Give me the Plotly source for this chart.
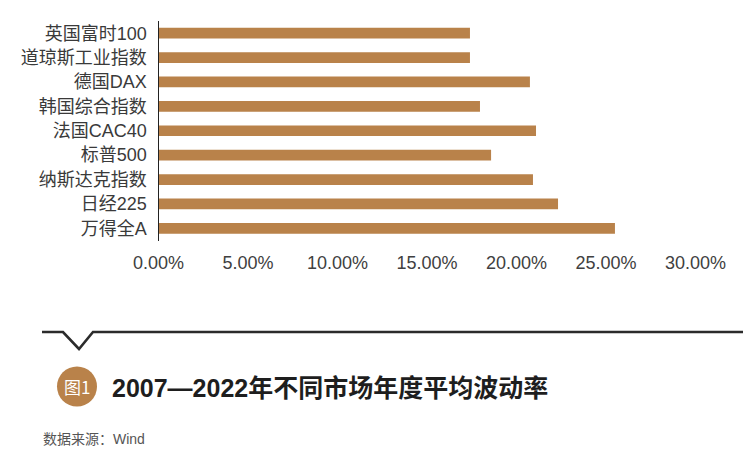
import plotly.graph_objects as go

categories = ["英国富时100", "道琼斯工业指数", "德国DAX", "韩国综合指数", "法国CAC40",
              "标普500", "纳斯达克指数", "日经225", "万得全A"]
volatility_pct = [17.40, 17.40, 20.75, 17.96, 21.09, 18.58, 20.92, 22.32, 25.50]
x_ticks = [0, 5, 10, 15, 20, 25, 30]
x_tick_labels = ["0.00%", "5.00%", "10.00%", "15.00%", "20.00%", "25.00%", "30.00%"]

title_text = "2007—2022年不同市场年度平均波动率"
badge_text = "图1"
source_text = "数据来源：Wind"

W, H = 743, 467
BAR = "#B9824A"
LATIN = "Liberation Sans, Noto Sans CJK SC, sans-serif"

fig = go.Figure(go.Bar(
    y=categories, x=volatility_pct, orientation="h",
    marker=dict(color=BAR, line=dict(width=0)),
    hoverinfo="x+y",
))

fig.update_layout(
    template="none",
    width=W, height=H,
    margin=dict(l=0, r=0, t=0, b=0, autoexpand=False),
    paper_bgcolor="white", plot_bgcolor="white",
    bargap=0.56,
    showlegend=False,
    xaxis=dict(
        domain=[158.5 / W, 695.5 / W],
        range=[0, 30], tickvals=x_ticks, ticktext=x_tick_labels,
        automargin=False,
        showgrid=False, zeroline=False, showline=False, ticks="",
        tickfont=dict(family=LATIN, size=18, color="#404040"),
        ticklabelstandoff=9,
    ),
    yaxis=dict(
        domain=[(H - 240.5) / H, (H - 21) / H],
        autorange="reversed",
        automargin=False,
        showgrid=False, zeroline=False,
        showline=True, linecolor="#222222", linewidth=1.3,
        ticks="",
        tickfont=dict(family=LATIN, size=18, color="#3a3a3a"),
        ticklabelstandoff=7,
    ),
)

def px(x):
    return x / W

def py(y):
    return 1 - y / H

path = (f"M {px(42)} {py(332)} L {px(63)} {py(332)} L {px(79)} {py(349)} "
        f"L {px(93)} {py(332)} L {px(743)} {py(332)}")
fig.add_shape(type="path", xref="paper", yref="paper", path=path,
              line=dict(color="#2b2b2b", width=2.6))

cx, cy, r = 77, 386.5, 20
fig.add_shape(type="circle", xref="paper", yref="paper",
              x0=px(cx - r), x1=px(cx + r), y0=py(cy + r), y1=py(cy - r),
              fillcolor=BAR, line=dict(width=0))
fig.add_annotation(x=px(cx), y=py(cy), xref="paper", yref="paper",
                   text=badge_text, showarrow=False,
                   font=dict(family="Noto Sans CJK SC, sans-serif", size=17, color="white"),
                   xanchor="center", yanchor="middle")

fig.add_annotation(x=px(110), y=py(388), xref="paper", yref="paper",
                   text=f"<b>{title_text}</b>", showarrow=False,
                   font=dict(family=LATIN, size=25, color="#1e1e1e"),
                   xanchor="left", yanchor="middle")

fig.add_annotation(x=px(41), y=py(439), xref="paper", yref="paper",
                   text=source_text, showarrow=False,
                   font=dict(family=LATIN, size=14, color="#555555"),
                   xanchor="left", yanchor="middle")

fig.write_html("out.html", config={"displayModeBar": False},
               post_script="document.body.style.margin='0';document.body.style.overflow='hidden';")
